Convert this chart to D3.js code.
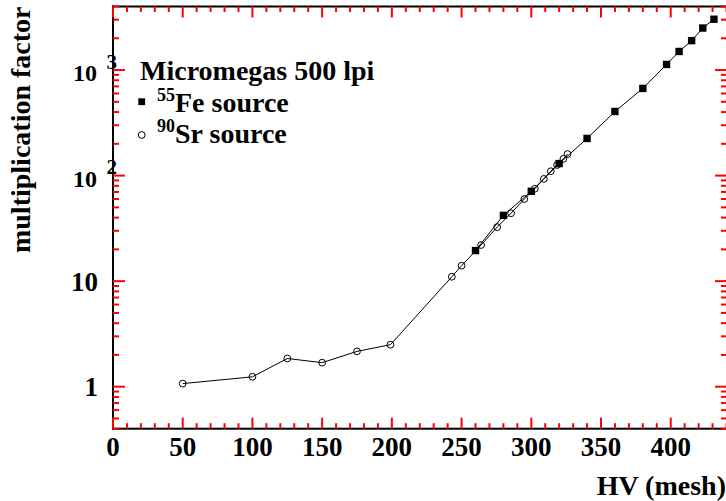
<!DOCTYPE html>
<html>
<head>
<meta charset="utf-8">
<script src="https://cdn.jsdelivr.net/npm/d3@7"></script>
<style>
  body { margin: 0; background: #fff; }
  svg text { font-family: "Liberation Serif", "DejaVu Serif", serif; font-weight: bold; fill: #000; }
</style>
</head>
<body>
<div id="chart"></div>
<script>
// gain curve
var hvFe   = [260, 280, 300, 320, 340, 360, 380, 397, 406, 415, 423, 431];
var gainFe = [19.5, 42, 71, 130, 225, 405, 670, 1130, 1500, 1900, 2500, 3030];

var hvSr   = [50, 100, 125, 150, 175, 199, 243, 250, 264, 275.5, 285.5, 295, 302.5, 309, 314, 318.5, 323, 326];
var gainSr = [1.07, 1.24, 1.85, 1.69, 2.16, 2.5, 11, 14, 22, 32.5, 44, 60, 75, 93, 110, 126, 144, 160];

var xMajor = [0, 50, 100, 150, 200, 250, 300, 350, 400];
var xMinor = d3.range(0, 441, 10);
var yMajor = [1, 10, 100, 1000];
var yMinor = [0.4, 0.5, 0.6, 0.7, 0.8, 0.9, 2, 3, 4, 5, 6, 7, 8, 9, 20, 30, 40, 50, 60, 70, 80, 90,
              200, 300, 400, 500, 600, 700, 800, 900, 2000, 3000, 4000];

var W = 726, H = 501;
var svg = d3.select("#chart").append("svg").attr("width", W).attr("height", H);

var fLeft = 113, fRight = 726.5, fTop = 6.5, fBottom = 428.7;
var x = d3.scaleLinear().domain([0, 440]).range([fLeft, fRight]);
var y = d3.scaleLog().domain([0.4, 4000]).range([fBottom, fTop]);

// frame
var fr = svg.append("g").attr("fill", "#000");
fr.append("rect").attr("x", fLeft - 1).attr("y", fTop - 1).attr("width", W - fLeft + 1).attr("height", 2);
fr.append("rect").attr("x", fLeft - 1).attr("y", fTop - 1).attr("width", 2).attr("height", fBottom - fTop + 2);
fr.append("rect").attr("x", fLeft - 1).attr("y", fBottom - 1).attr("width", W - fLeft + 1).attr("height", 2);

// ticks (test colour)
var tk = svg.append("g").attr("stroke", "red").attr("stroke-width", 2);
xMinor.forEach(function (v) {
  var len = xMajor.indexOf(v) >= 0 ? 11 : 5.5;
  tk.append("line").attr("x1", x(v)).attr("x2", x(v)).attr("y1", fBottom).attr("y2", fBottom - len);
  tk.append("line").attr("x1", x(v)).attr("x2", x(v)).attr("y1", fTop).attr("y2", fTop + len);
});
yMajor.concat(yMinor).forEach(function (v) {
  var len = yMajor.indexOf(v) >= 0 ? 12 : 6;
  tk.append("line").attr("x1", fLeft).attr("x2", fLeft + len).attr("y1", y(v)).attr("y2", y(v));
  tk.append("line").attr("x1", W).attr("x2", W - len + 1).attr("y1", y(v)).attr("y2", y(v));
});

// x tick labels
svg.append("g").selectAll("text").data(xMajor).enter().append("text")
  .attr("x", function (d) { return x(d); })
  .attr("y", 456)
  .attr("text-anchor", "middle")
  .style("font-size", "27px")
  .text(function (d) { return d; });

// y tick labels
yMajor.forEach(function (v) {
  var p = Math.round(Math.log10(v));
  if (p < 2) {
    svg.append("text").attr("x", 98).attr("y", y(v) + 9.5)
      .attr("text-anchor", "end").style("font-size", "27px").text(v);
  } else {
    svg.append("text").attr("x", 97).attr("y", y(v) + 11)
      .attr("text-anchor", "end").style("font-size", "24px").text("10");
    svg.append("text").attr("x", 106.5).attr("y", y(v) - 1.5)
      .style("font-size", "21px").text(p);
  }
});

// axis titles
svg.append("text").attr("x", 726).attr("y", 494.5)
  .attr("text-anchor", "end").style("font-size", "28px").text("HV (mesh)");
svg.append("text")
  .attr("transform", "translate(30," + fTop + ") rotate(-90)")
  .attr("text-anchor", "end").style("font-size", "28px").text("multiplication factor");

// curves
var line = d3.line().x(function (d) { return x(d[0]); }).y(function (d) { return y(d[1]); });
var sr = d3.zip(hvSr, gainSr), fe = d3.zip(hvFe, gainFe);
svg.append("path").datum(sr).attr("d", line).attr("fill", "none").attr("stroke", "#000").attr("stroke-width", 1);
svg.append("path").datum(fe).attr("d", line).attr("fill", "none").attr("stroke", "#000").attr("stroke-width", 1);

svg.append("g").selectAll("circle").data(sr).enter().append("circle")
  .attr("cx", function (d) { return x(d[0]); })
  .attr("cy", function (d) { return y(d[1]); })
  .attr("r", 3.4).attr("fill", "none").attr("stroke", "#000").attr("stroke-width", 1);

var sq = 7.4;
svg.append("g").selectAll("rect").data(fe).enter().append("rect")
  .attr("x", function (d) { return x(d[0]) - sq / 2; })
  .attr("y", function (d) { return y(d[1]) - sq / 2; })
  .attr("width", sq).attr("height", sq).attr("fill", "#000");

// legend
svg.append("text").attr("x", 140).attr("y", 80).style("font-size", "28px").text("Micromegas 500 lpi");
svg.append("rect").attr("x", 141.7 - 3.4).attr("y", 101.7 - 3.4).attr("width", 6.8).attr("height", 6.8).attr("fill", "#000");
svg.append("circle").attr("cx", 141.7).attr("cy", 135).attr("r", 3.4)
  .attr("fill", "none").attr("stroke", "#000").attr("stroke-width", 1);

var l1 = svg.append("text").attr("x", 157).attr("y", 111.7).style("font-size", "28px");
l1.append("tspan").attr("dy", -11).style("font-size", "18px").text("55");
l1.append("tspan").attr("dy", 11).text("Fe source");
var l2 = svg.append("text").attr("x", 157).attr("y", 143.3).style("font-size", "28px");
l2.append("tspan").attr("dy", -11).style("font-size", "18px").text("90");
l2.append("tspan").attr("dy", 11).text("Sr source");
</script>
</body>
</html>
